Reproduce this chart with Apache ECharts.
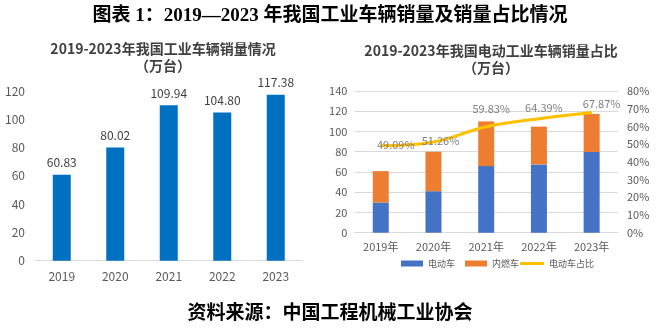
<!DOCTYPE html>
<html><head><meta charset="utf-8">
<script src="https://cdn.jsdelivr.net/npm/echarts@6/dist/echarts.min.js"></script>
<style>html,body{margin:0;padding:0;background:#fff}#c{width:660px;height:328px}</style>
</head><body><div id="c"></div>
<script>
var years = ['2019','2020','2021','2022','2023'];
var yearLabels = ['2019年','2020年','2021年','2022年','2023年'];
var totalSales = [60.83, 80.02, 109.94, 104.80, 117.38];
var electricSales = [29.86, 41.02, 65.78, 67.48, 79.67];
var combustionSales = [30.97, 39.00, 44.16, 37.32, 37.71];
var electricShare = [49.09, 51.26, 59.83, 64.39, 67.87];
var shareLabelOffsets = [[15,-1],[7,-1],[5,-18],[5,-11],[10,-9]];

var F = '"Noto Sans CJK SC", "Microsoft YaHei", sans-serif';
var chart = echarts.init(document.getElementById('c'));
var gray = '#595959';
var tStyle = {fontFamily: F, fontWeight: 'bold', fontSize: 14, color: '#404040'};
var legendText = {fontFamily: F, fontSize: 9, color: gray};
chart.setOption({
  animation: false,
  title: [
    {text: '图表 1：2019—2023 年我国工业车辆销量及销量占比情况', left: 'center', top: 2,
     textStyle: {fontFamily: '"Liberation Serif", "Noto Sans CJK SC", serif', fontWeight: 'bold', fontSize: 19, color: '#000'}},
    {text: '2019-2023年我国工业车辆销量情况', left: 158, textAlign: 'center', top: 37, textStyle: tStyle},
    {text: '（万台）', left: 158, textAlign: 'center', top: 54, textStyle: tStyle},
    {text: '2019-2023年我国电动工业车辆销量占比', left: 486, textAlign: 'center', top: 39, textStyle: tStyle},
    {text: '（万台）', left: 486, textAlign: 'center', top: 56, textStyle: tStyle},
    {text: '资料来源：中国工程机械工业协会', left: 'center', top: 300,
     textStyle: {fontFamily: '"Liberation Serif", "Noto Sans CJK SC", serif', fontWeight: 'bold', fontSize: 19, color: '#000'}}
  ],
  legend: [
    {left: 396, top: 254, itemWidth: 22, itemHeight: 6, itemGap: 10, icon: 'rect',
     textStyle: legendText, data: ['电动车','内燃车']},
    {left: 515, top: 254, itemWidth: 24, itemHeight: 3, icon: 'rect',
     textStyle: legendText, data: ['电动车占比']}
  ],
  grid: [
    {left: 35, right: 357.5, top: 91, bottom: 67.3},
    {left: 354.4, right: 42, top: 91, bottom: 95.3}
  ],
  xAxis: [
    {type: 'category', gridIndex: 0, data: years,
     axisLine: {lineStyle: {color: '#D9D9D9'}}, axisTick: {show: false},
     axisLabel: {color: gray, fontFamily: F, fontSize: 12, margin: 10}},
    {type: 'category', gridIndex: 1, data: yearLabels,
     axisLine: {lineStyle: {color: '#D9D9D9'}}, axisTick: {show: false},
     axisLabel: {color: gray, fontFamily: F, fontSize: 11, margin: 9}}
  ],
  yAxis: [
    {type: 'value', gridIndex: 0, min: 0, max: 120, interval: 20,
     splitLine: {show: false}, axisLine: {show: false}, axisTick: {show: false},
     axisLabel: {color: gray, fontFamily: F, fontSize: 12, margin: 10}},
    {type: 'value', gridIndex: 1, min: 0, max: 140, interval: 20,
     splitLine: {lineStyle: {color: '#D9D9D9'}}, axisLine: {show: false}, axisTick: {show: false},
     axisLabel: {color: gray, fontFamily: F, fontSize: 11, margin: 7}},
    {type: 'value', gridIndex: 1, min: 0, max: 80, interval: 10, position: 'right',
     splitLine: {show: false}, axisLine: {show: false}, axisTick: {show: false},
     axisLabel: {color: gray, fontFamily: F, fontSize: 11, margin: 9, formatter: '{value}%'}}
  ],
  series: [
    {name: '销量', type: 'bar', xAxisIndex: 0, yAxisIndex: 0, data: totalSales, barWidth: 18,
     itemStyle: {color: '#0070C0'},
     label: {show: true, position: 'top', distance: 6, color: '#404040', fontFamily: F, fontSize: 12,
             formatter: function(p){return p.value.toFixed(2);}}},
    {name: '电动车', type: 'bar', stack: 's', xAxisIndex: 1, yAxisIndex: 1, data: electricSales, barWidth: 16,
     itemStyle: {color: '#4472C4'}},
    {name: '内燃车', type: 'bar', stack: 's', xAxisIndex: 1, yAxisIndex: 1, data: combustionSales, barWidth: 16,
     itemStyle: {color: '#ED7D31'}},
    {name: '电动车占比', type: 'line', xAxisIndex: 1, yAxisIndex: 2, smooth: 0.4,
     symbol: 'circle', symbolSize: 1, showSymbol: true,
     lineStyle: {color: '#FFC000', width: 3}, itemStyle: {color: '#FFC000'},
     data: electricShare.map(function(v, i){
       return {value: v, label: {offset: shareLabelOffsets[i]}};
     }),
     label: {show: true, position: 'inside', color: '#7F7F7F', fontFamily: F, fontSize: 11,
             formatter: function(p){return p.value.toFixed(2) + '%';}}}
  ]
});
</script></body></html>
